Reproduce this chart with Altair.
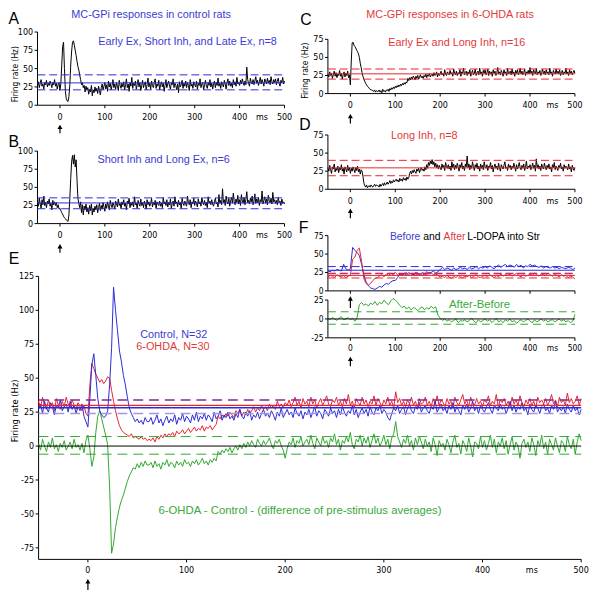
import altair as alt
import pandas as pd

# ---------------- data ----------------
T_FINE = list(range(-50, 501, 2))   # panels A-D and E: 2 ms bins (-50..60 "early", 62..500 "late")
T_F = list(range(-50, 501, 5))      # panel F: 5 ms bins

A_EARLY = [27, 32, 24, 30, 35, 26, 29, 22, 31, 28,
           34, 25, 30, 27, 33, 29, 24, 31, 28, 35,
           26, 30, 22, 28, 31, 20, 30, 55, 80, 86,
           50, 20, 9, 6, 5, 12, 28, 55, 74, 86,
           88, 82, 75, 68, 60, 53, 48, 41, 35, 28,
           31, 24, 27, 18, 26, 21]
A_LATE = [24, 15, 22, 18, 27, 13, 21, 17, 25, 19,
          23, 16, 26, 20, 14, 24, 29, 21, 26, 31,
          22, 28, 19, 33, 25, 30, 21, 27, 35, 24,
          29, 22, 31, 26, 20, 34, 27, 23, 30, 25,
          32, 21, 28, 36, 24, 29, 19, 31, 26, 38,
          23, 30, 27, 33, 22, 28, 35, 25, 31, 20,
          27, 34, 24, 29, 32, 21, 28, 37, 25, 30,
          22, 33, 27, 24, 31, 36, 23, 29, 26, 34,
          21, 28, 32, 25, 30, 19, 27, 35, 24, 29,
          33, 26, 22, 31, 28, 36, 24, 30, 27, 21,
          29, 17, 32, 25, 28, 34, 23, 30, 26, 33,
          24, 31, 27, 20, 35, 26, 29, 23, 32, 28,
          25, 33, 22, 30, 27, 36, 24, 29, 31, 21,
          28, 34, 26, 23, 31, 27, 35, 25, 30, 22,
          29, 33, 24, 31, 27, 37, 26, 30, 23, 32,
          28, 25, 34, 29, 22, 31, 36, 27, 33, 26,
          30, 24, 35, 28, 32, 26, 38, 29, 31, 27,
          34, 29, 36, 31, 27, 33, 28, 52, 35, 30,
          26, 37, 31, 29, 35, 28, 33, 39, 30, 34,
          27, 32, 38, 29, 35, 31, 26, 36, 33, 29,
          37, 30, 34, 28, 39, 32, 29, 35, 31, 36,
          28, 33, 37, 30, 26, 34, 31, 38, 29, 33]
A_LEVELS = [30.5, 41.5, 21]

B_EARLY = [30, 24, 35, 27, 21, 33, 26, 38, 25, 29,
           22, 31, 27, 34, 24, 28, 19, 32, 26, 30,
           25, 29, 22, 26, 20, 21, 18, 15, 13, 10,
           8, 7, 5, 4, 3, 12, 35, 62, 86, 94,
           82, 95, 78, 88, 60, 35, 28, 22, 30, 15,
           26, 12, 24, 19, 27, 16]
B_LATE = [22, 13, 25, 18, 27, 12, 21, 16, 24, 19,
          26, 15, 22, 28, 18, 25, 20, 29, 23, 17,
          27, 21, 30, 24, 19, 32, 26, 22, 29, 25,
          20, 31, 27, 23, 34, 25, 28, 21, 30, 26,
          33, 24, 28, 19, 31, 27, 35, 22, 29, 25,
          30, 23, 37, 26, 28, 21, 32, 27, 24, 34,
          25, 29, 22, 31, 27, 20, 33, 26, 30, 24,
          28, 35, 23, 29, 26, 32, 21, 30, 27, 25,
          31, 24, 28, 22, 36, 27, 30, 25, 33, 23,
          29, 26, 34, 21, 28, 31, 24, 37, 27, 30,
          23, 32, 26, 29, 21, 35, 28, 25, 31, 27,
          24, 38, 29, 26, 33, 22, 30, 27, 35, 25,
          31, 28, 23, 34, 27, 30, 24, 36, 29, 26,
          32, 25, 29, 22, 37, 28, 31, 26, 33, 27,
          24, 30, 35, 27, 29, 23, 40, 28, 32, 26,
          48, 29, 33, 25, 38, 30, 27, 35, 24, 31,
          36, 28, 42, 30, 26, 34, 29, 39, 27, 33,
          25, 40, 31, 28, 36, 26, 33, 44, 29, 32,
          27, 35, 30, 38, 26, 31, 41, 28, 34, 29,
          36, 25, 33, 30, 45, 27, 32, 37, 28, 34,
          26, 39, 31, 29, 35, 27, 43, 30, 33, 28,
          32, 26, 36, 29, 31, 25, 34, 28, 30, 27]
B_LEVELS = [28.5, 35.5, 20.5]

C_EARLY = [27, 23, 30, 25, 28, 21, 26, 31, 24, 29,
           22, 27, 25, 32, 24, 28, 20, 26, 30, 23,
           28, 25, 31, 22, 26, 12, 45, 70, 71, 67,
           65, 63, 60, 58, 55, 50, 42, 36, 29, 24,
           20, 17, 14, 12, 10, 9, 7, 6, 5, 5,
           4, 3, 5, 2, 4, 3]
C_LATE = [3, 5, 2, 4, 1, 6, 3, 4, 2, 5,
          4, 6, 3, 7, 5, 8, 6, 9, 7, 10,
          8, 11, 9, 12, 10, 13, 11, 14, 12, 15,
          13, 16, 15, 21, 18, 22, 19, 23, 20, 24,
          22, 19, 24, 21, 25, 20, 23, 26, 22, 24,
          21, 25, 23, 27, 22, 26, 24, 28, 23, 25,
          27, 24, 29, 25, 26, 30, 23, 28, 25, 27,
          31, 26, 28, 24, 33, 27, 25, 30, 28, 26,
          32, 27, 29, 24, 34, 28, 26, 31, 25, 29,
          27, 33, 24, 30, 28, 35, 26, 29, 31, 25,
          30, 27, 33, 24, 29, 32, 26, 28, 34, 25,
          29, 31, 26, 35, 27, 30, 24, 32, 28, 33,
          26, 29, 34, 25, 31, 27, 30, 24, 33, 28,
          31, 25, 28, 36, 27, 30, 26, 32, 29, 24,
          33, 28, 30, 25, 35, 27, 29, 31, 26, 34,
          27, 30, 24, 32, 28, 33, 26, 29, 35, 27,
          31, 26, 29, 34, 25, 30, 28, 32, 27, 36,
          28, 31, 25, 33, 29, 27, 35, 26, 30, 28,
          32, 25, 29, 34, 27, 31, 26, 33, 28, 30,
          26, 35, 28, 30, 24, 32, 29, 27, 34, 28,
          31, 27, 33, 25, 29, 32, 26, 30, 28, 35,
          27, 30, 25, 33, 28, 31, 26, 29, 32, 28]
C_LEVELS = [27.3, 34, 20]

D_EARLY = [30, 25, 33, 27, 22, 31, 28, 35, 24, 29,
           26, 32, 23, 30, 27, 34, 25, 29, 21, 31,
           28, 24, 33, 26, 30, 22, 29, 25, 31, 27,
           23, 30, 26, 32, 24, 28, 21, 27, 25, 18,
           9, 5, 3, 6, 2, 4, 5, 3, 6, 4,
           3, 5, 7, 4, 6, 5]
D_LATE = [5, 3, 7, 4, 6, 8, 5, 9, 6, 7,
          10, 7, 9, 12, 8, 11, 9, 13, 10, 12,
          14, 11, 13, 10, 15, 12, 14, 11, 16, 13,
          15, 12, 17, 14, 16, 22, 25, 21, 26, 23,
          27, 24, 22, 28, 25, 29, 23, 27, 30, 26,
          28, 25, 31, 27, 34, 29, 37, 33, 39, 35,
          41, 34, 38, 31, 36, 30, 34, 28, 33, 30,
          27, 35, 30, 33, 26, 37, 31, 29, 34, 28,
          32, 26, 38, 30, 35, 27, 33, 29, 36, 31,
          25, 34, 30, 37, 28, 32, 26, 35, 31, 46,
          30, 35, 27, 33, 29, 38, 31, 26, 34, 30,
          36, 28, 32, 25, 35, 29, 33, 27, 38, 31,
          29, 34, 26, 32, 30, 37, 28, 33, 24, 31,
          35, 29, 32, 27, 36, 30, 25, 34, 31, 28,
          33, 38, 29, 31, 26, 35, 30, 33, 27, 32,
          29, 36, 31, 25, 34, 28, 32, 37, 30, 27,
          33, 29, 35, 26, 31, 39, 28, 32, 30, 34,
          27, 31, 36, 29, 33, 25, 42, 30, 34, 28,
          32, 26, 35, 30, 28, 36, 31, 27, 33, 29,
          35, 28, 31, 24, 34, 30, 37, 27, 32, 29,
          26, 33, 30, 36, 28, 31, 25, 34, 29, 32,
          30, 27, 35, 28, 31, 24, 33, 29, 26, 30]
D_LEVELS = [29.6, 40, 18.7]

F_BEFORE = [27, 26, 28, 27, 29, 28, 27, 36, 30, 28,
            30, 59, 55, 52, 48, 36, 22, 12, 7, 4,
            3, 2, 4, 6, 5, 8, 10, 9, 12, 14,
            14, 18, 23, 22, 24, 21, 25, 23, 22, 25,
            24, 22, 25, 23, 26, 24, 25, 27, 24, 26,
            29, 32, 29, 31, 30, 28, 31, 29, 30, 32,
            30, 31, 29, 32, 30, 31, 33, 30, 32, 31,
            33, 31, 34, 32, 30, 33, 35, 32, 34, 36,
            33, 35, 34, 32, 36, 33, 35, 31, 34, 33,
            36, 34, 35, 33, 32, 34, 31, 33, 32, 31,
            33, 31, 32, 30, 32, 31, 30, 32, 31, 29,
            31]
F_AFTER = [19, 21, 20, 18, 22, 20, 19, 21, 18, 20,
           21, 43, 46, 55, 58, 40, 17, 10, 8, 10,
           14, 17, 18, 20, 22, 19, 23, 21, 24, 22,
           25, 22, 24, 21, 23, 25, 22, 24, 21, 23,
           22, 24, 21, 23, 22, 25, 24, 22, 23, 21,
           19, 20, 18, 21, 19, 17, 20, 18, 21, 19,
           18, 20, 19, 21, 18, 20, 22, 19, 18, 20,
           21, 19, 22, 20, 18, 21, 19, 23, 20, 22,
           21, 23, 20, 22, 24, 21, 19, 22, 20, 21,
           23, 21, 24, 22, 20, 23, 22, 21, 24, 22,
           20, 22, 21, 19, 22, 20, 21, 18, 20, 19,
           16]
F_DIFF = [1, -1, 2, 0, -2, 1, 3, -1, 0, 2,
          -1, 1, -3, 2, 19, 22, 18, 20, 17, 21,
          19, 23, 18, 22, 20, 25, 21, 19, 24, 27,
          25, 22, 18, 15, 17, 13, 16, 12, 15, 14,
          11, 14, 16, 12, 15, 13, 17, 14, 16, 5,
          1, -2, 0, -3, -1, -4, -2, 0, -5, -2,
          -3, -1, -4, -2, 1, -3, -5, -1, -4, -2,
          0, -3, -1, -5, -2, 1, -4, -2, -5, -1,
          -3, 0, -4, -2, -6, -3, -1, -4, -2, 0,
          -3, -5, -1, -4, -2, 0, -3, -1, -4, -2,
          -1, -4, -2, 0, -3, -1, -4, -2, -5, -3,
          6]
F_BEFORE_LEVELS = [28, 33, 23.3]
F_AFTER_LEVELS = [21, 24, 17.5]
F_DIFF_LEVELS = [9.5, -7]

E_CTRL_EARLY = [27, 31, 24, 33, 28, 25, 32, 29, 23, 30,
                28, 34, 26, 29, 31, 25, 33, 27, 30, 24,
                29, 26, 31, 22, 18, 14, 35, 60, 68, 52,
                35, 26, 23, 21, 22, 26, 45, 72, 117, 100,
                85, 70, 62, 52, 45, 36, 28, 24, 21, 18,
                20, 17, 19, 16, 21, 18]
E_CTRL_LATE = [18, 21, 16, 19, 23, 17, 20, 15, 19, 22,
               17, 20, 18, 23, 16, 21, 19, 24, 18, 22,
               20, 17, 23, 19, 25, 18, 22, 20, 24, 19,
               23, 21, 18, 25, 20, 22, 26, 19, 23, 21,
               25, 20, 22, 19, 24, 21, 27, 22, 20, 25,
               22, 26, 19, 23, 21, 25, 20, 24, 27, 22,
               24, 21, 26, 23, 19, 25, 22, 28, 21, 24,
               27, 23, 25, 21, 28, 24, 22, 26, 20, 25,
               23, 27, 21, 25, 29, 22, 26, 24, 20, 27,
               25, 22, 28, 24, 26, 21, 27, 23, 29, 25,
               22, 26, 24, 30, 23, 27, 21, 25, 28, 24,
               27, 22, 29, 25, 23, 28, 26, 30, 24, 27,
               25, 21, 19, 24, 28, 26, 30, 24, 27, 29,
               23, 28, 31, 26, 24, 29, 27, 32, 25, 28,
               30, 26, 24, 29, 27, 33, 25, 28, 31, 26,
               28, 24, 30, 27, 32, 25, 29, 26, 23, 30,
               27, 31, 25, 28, 33, 26, 29, 24, 30, 27,
               25, 29, 32, 27, 24, 30, 28, 26, 31, 27,
               29, 24, 28, 33, 26, 30, 25, 29, 27, 32,
               26, 28, 23, 31, 27, 25, 30, 28, 24, 29,
               31, 26, 28, 24, 30, 27, 33, 25, 28, 26,
               29, 24, 31, 27, 25, 30, 26, 28, 23, 27]
E_OHDA_EARLY = [33, 28, 36, 30, 27, 34, 29, 32, 26, 35,
                30, 27, 33, 29, 36, 31, 28, 34, 30, 27,
                32, 29, 26, 30, 24, 22, 45, 61, 57, 53,
                50, 47, 49, 46, 48, 51, 50, 41, 33, 26,
                20, 15, 12, 10, 9, 8, 7, 9, 6, 7,
                6, 5, 7, 5, 6, 4]
E_OHDA_LATE = [5, 4, 6, 3, 7, 5, 8, 6, 9, 7,
               9, 8, 10, 7, 11, 9, 10, 12, 9, 11,
               13, 10, 12, 14, 11, 13, 12, 15, 11, 14,
               13, 15, 12, 14, 16, 22, 20, 23, 21, 24,
               22, 25, 23, 21, 26, 24, 27, 22, 25, 23,
               27, 24, 26, 29, 25, 28, 26, 30, 27, 29,
               26, 31, 28, 30, 27, 33, 29, 31, 28, 32,
               30, 34, 29, 32, 36, 30, 33, 28, 35, 31,
               33, 29, 36, 31, 34, 28, 32, 35, 30, 33,
               37, 31, 29, 34, 32, 36, 30, 33, 29, 35,
               31, 38, 30, 33, 28, 35, 32, 30, 36, 31,
               34, 29, 33, 31, 37, 30, 35, 32, 29, 34,
               31, 36, 30, 33, 28, 40, 32, 35, 30, 33,
               29, 34, 31, 36, 30, 33, 28, 35, 31, 32,
               36, 30, 33, 29, 35, 31, 37, 30, 34, 32,
               29, 35, 31, 33, 28, 36, 32, 30, 34, 38,
               31, 34, 29, 36, 32, 30, 35, 31, 33, 29,
               34, 32, 37, 30, 33, 31, 38, 29, 34, 32,
               35, 30, 33, 29, 36, 31, 34, 30, 37, 32,
               29, 34, 31, 35, 30, 33, 28, 36, 32, 34,
               31, 35, 30, 33, 38, 31, 34, 29, 36, 32,
               34, 30, 39, 32, 35, 31, 33, 37, 30, 35]
E_DIFF_EARLY = [2, -3, 5, 0, -4, 3, -1, 6, -2, 1,
                -4, 2, -1, 4, -3, 0, 3, -2, 5, -1,
                1, -3, 2, -5, 4, 8, -2, -15, -8, 10,
                22, 26, 20, 14, 8, 1, -30, -79, -72, -60,
                -52, -45, -40, -36, -31, -26, -22, -19, -16, -17,
                -13, -16, -12, -15, -11, -14]
E_DIFF_LATE = [-14, -12, -16, -11, -15, -13, -17, -12, -14, -10,
               -15, -12, -13, -16, -11, -14, -12, -15, -10, -13,
               -12, -15, -11, -13, -10, -14, -12, -9, -13, -11,
               -14, -10, -12, -9, -11, -4, -6, -3, -5, -2,
               -4, -1, -5, -2, 0, -3, 1, -2, 2, -1,
               3, 0, 4, 1, -1, 5, 2, 0, 4, 1,
               3, 6, 1, -2, 4, 2, 5, 0, -3, -9,
               -2, 3, 1, 6, -1, 4, 2, 7, 0, 3,
               5, 1, 8, 2, -2, 6, 3, 0, 7, 2,
               4, -1, 6, 3, 9, 1, 5, -3, 4, 2,
               7, 3, 10, 1, -2, 5, 3, 8, 0, 6,
               2, 7, -1, 4, 9, 2, 6, 0, 3, 8,
               1, 5, -2, 6, 9, 18, 7, 3, -1, 5,
               2, 8, 0, 4, -3, 6, 1, 7, 3, -2,
               5, 0, 3, -4, 6, 1, -7, 4, 0, 2,
               -3, 5, 1, -5, 3, 8, -1, 2, -6, 4,
               1, -4, 6, 0, -8, 3, 2, -2, 7, -1,
               4, -3, 2, 8, -1, 5, -5, 3, 0, 6,
               -2, 4, -6, 1, 7, -3, 3, 0, -9, 2,
               5, -1, 3, -4, 6, 1, -7, 4, 0, 8,
               -2, 3, -6, 5, 1, -3, 6, 0, -5, 4,
               2, -4, 7, 1, -2, 5, -6, 3, 9, 4]
E_CTRL_MEAN = 28.3
E_OHDA_MEAN = 30
E_UPPER = 34
E_LOWER = 24
E_DIFF_LEVELS = [7, -6]

X_TICKS = [0, 100, 200, 300, 400, 500]
X_UNIT = "ms"
Y_TICKS_100 = [0, 25, 50, 75, 100]
Y_TICKS_75 = [0, 25, 50, 75]
Y_TICKS_F2 = [-25, 0, 25]
Y_TICKS_E = [-75, -50, -25, 0, 25, 50, 75, 100, 125]

TITLE_CTRL = "MC-GPi responses in control rats"
TITLE_OHDA = "MC-GPi responses in 6-OHDA rats"
SUB_A = "Early Ex, Short Inh, and Late Ex, n=8"
SUB_B = "Short Inh and Long Ex, n=6"
SUB_C = "Early Ex and Long Inh, n=16"
SUB_D = "Long Inh, n=8"
SUB_F = ["Before", "and", "After", "L-DOPA into Str"]
SUB_F2 = "After-Before"
LEG_E = ["Control, N=32", "6-OHDA, N=30"]
SUB_E = "6-OHDA - Control - (difference of pre-stimulus averages)"
YTITLE = "Firing rate (Hz)"

# ---------------- style / layout ----------------
M = 8
W = H = 592
SANS = "Liberation Sans, Arial, Helvetica, sans-serif"
NARROW = "Liberation Sans Narrow, Arial Narrow, DejaVu Sans Condensed, sans-serif"
BLUE = "#2a2ad8"
RED = "#e8232b"
GREEN = "#2fa82f"
TBLUE = "#3b3bd2"
TRED = "#e23a3a"
TGREEN = "#3aa83a"

# panel geometry in page pixels: (x of -50 ms, x of 500 ms, y of ymin, y of ymax, [ymin, ymax])
G_A = (37.9, 288.3, 102.5, 28.3, [0, 100])
G_B = (37.9, 288.3, 222.5, 149.0, [0, 100])
G_C = (332.3, 582.7, 90.7, 35.7, [0, 75])
G_D = (332.3, 582.7, 187.7, 132.7, [0, 75])
G_FU = (332.3, 582.7, 290.7, 234.7, [0, 75])
G_FL = (332.3, 582.7, 338.3, 300.0, [-25, 25])
G_E = (39.0, 589.0, 562.9, 276.0, [-83.5, 125])


def scales(g):
    x0, x1, y0, y1, ydom = g
    xs = alt.Scale(domain=[-50, 500], range=[x0 - M, x1 - M], nice=False, zero=False)
    ys = alt.Scale(domain=ydom, range=[y0 - M, y1 - M], nice=False, zero=False)
    return xs, ys


def enc_xy(xs, ys, xf="t", yf="v"):
    return dict(x=alt.X(xf + ":Q", scale=xs, axis=None), y=alt.Y(yf + ":Q", scale=ys, axis=None))


def line_layer(times, values, color, xs, ys, width=1.0):
    assert len(times) == len(values), (len(times), len(values))
    df = pd.DataFrame({"t": times, "v": values})
    return alt.Chart(df).mark_line(color=color, strokeWidth=width).encode(**enc_xy(xs, ys))


def level_layer(vals, color, xs, ys, dash=None, width=1.0):
    df = pd.DataFrame({"t0": [-50] * len(vals), "t1": [500] * len(vals), "v": vals})
    kw = {"color": color, "strokeWidth": width}
    if dash:
        kw["strokeDash"] = dash
    return alt.Chart(df).mark_rule(**kw).encode(x2="t1:Q", **enc_xy(xs, ys, xf="t0"))


def text_layer(rows, xs, ys, size=11, font=SANS, align="center", angle=0):
    df = pd.DataFrame(rows, columns=["t", "v", "label", "color"])
    kw = dict(font=font, fontSize=size, align=align, baseline="middle")
    if angle:
        kw["angle"] = angle
    return alt.Chart(df).mark_text(**kw).encode(
        text="label:N", color=alt.Color("color:N", scale=None), **enc_xy(xs, ys))


def arrow_layers(xs, ys, tail, head):
    df = pd.DataFrame({"t": [0], "v0": [tail], "v1": [head]})
    base = alt.Chart(df)
    stem = base.mark_rule(color="black", strokeWidth=1.2).encode(y2="v1:Q", **enc_xy(xs, ys, yf="v0"))
    tip = base.mark_point(shape="triangle-up", filled=True, size=26, color="black",
                          opacity=1).encode(**enc_xy(xs, ys, yf="v1"))
    return [stem, tip]


def axis_layers(g, xs, ys, yticks, x_at=None, xlabels=True, xgap=11.5, ygap=4.5,
                tick=3.0, lsize=9.0):
    """Axis lines, ticks and labels drawn through the panel's own scales."""
    x0, x1, y0, y1, ydom = g
    kx = (x1 - x0) / 550.0
    ky = (y0 - y1) / float(ydom[1] - ydom[0])
    if x_at is None:
        x_at = ydom[0]
    segs = [(-50, 500, x_at, x_at), (-50, -50, ydom[0], ydom[1])]
    segs += [(t, t, x_at, x_at - tick / ky) for t in X_TICKS]
    segs += [(-50, -50 - tick / kx, v, v) for v in yticks]
    seg_df = pd.DataFrame(segs, columns=["t0", "t1", "v0", "v1"])
    out = [alt.Chart(seg_df).mark_rule(color="black", strokeWidth=1).encode(
        x2="t1:Q", y2="v1:Q", **enc_xy(xs, ys, xf="t0", yf="v0"))]
    if xlabels:
        xl = [(t, x_at - xgap / ky, str(t), "black") for t in X_TICKS]
        xl.append((450, x_at - xgap / ky, X_UNIT, "black"))
        out.append(text_layer(xl, xs, ys, size=lsize, font=NARROW))
    yl = [(-50 - ygap / kx, v, str(v), "black") for v in yticks]
    out.append(text_layer(yl, xs, ys, size=lsize, font=NARROW, align="right"))
    return out


# Panel A
xs, ys = scales(G_A)
pA = alt.layer(
    *axis_layers(G_A, xs, ys, Y_TICKS_100),
    line_layer(T_FINE, A_EARLY + A_LATE, "black", xs, ys),
    level_layer(A_LEVELS[:1], BLUE, xs, ys),
    level_layer(A_LEVELS[1:], BLUE, xs, ys, dash=[8, 4]),
    text_layer([[-102.6, 117.5, "A", "black"]], xs, ys, size=16),
    text_layer([[203, 123.7, TITLE_CTRL, TBLUE], [284, 86.5, SUB_A, TBLUE]], xs, ys),
    text_layer([[-100, 42.5, YTITLE, "black"]], xs, ys, size=8.5, font=NARROW, angle=270),
    *arrow_layers(xs, ys, -38.4, -29.6),
)

# Panel B
xs, ys = scales(G_B)
pB = alt.layer(
    *axis_layers(G_B, xs, ys, Y_TICKS_100),
    line_layer(T_FINE, B_EARLY + B_LATE, "black", xs, ys),
    level_layer(B_LEVELS[:1], BLUE, xs, ys),
    level_layer(B_LEVELS[1:], BLUE, xs, ys, dash=[8, 4]),
    text_layer([[-102.6, 112, "B", "black"]], xs, ys, size=16),
    text_layer([[231, 87.3, SUB_B, TBLUE]], xs, ys),
    *arrow_layers(xs, ys, -40.1, -31.3),
)

# Panel C
xs, ys = scales(G_C)
pC = alt.layer(
    *axis_layers(G_C, xs, ys, Y_TICKS_75),
    line_layer(T_FINE, C_EARLY + C_LATE, "black", xs, ys),
    level_layer(C_LEVELS[:1], RED, xs, ys),
    level_layer(C_LEVELS[1:], RED, xs, ys, dash=[8, 4]),
    text_layer([[-99, 101, "C", "black"]], xs, ys, size=16),
    text_layer([[222, 109, TITLE_OHDA, TRED], [237, 70, SUB_C, TRED]], xs, ys),
    text_layer([[-100.6, 31.6, YTITLE, "black"]], xs, ys, size=8.5, font=NARROW, angle=270),
    *arrow_layers(xs, ys, -41.3, -31.1),
)

# Panel D
xs, ys = scales(G_D)
pD = alt.layer(
    *axis_layers(G_D, xs, ys, Y_TICKS_75),
    line_layer(T_FINE, D_EARLY + D_LATE, "black", xs, ys),
    level_layer(D_LEVELS[:1], RED, xs, ys),
    level_layer(D_LEVELS[1:], RED, xs, ys, dash=[8, 4]),
    text_layer([[-101, 89.2, "D", "black"]], xs, ys, size=16),
    text_layer([[164.5, 74, SUB_D, TRED]], xs, ys),
    *arrow_layers(xs, ys, -40, -29.7),
)

# Panel F upper
xs, ys = scales(G_FU)
pFu = alt.layer(
    *axis_layers(G_FU, xs, ys, Y_TICKS_75, xlabels=False, lsize=8.5),
    line_layer(T_F, F_BEFORE, BLUE, xs, ys),
    line_layer(T_F, F_AFTER, RED, xs, ys),
    level_layer(F_BEFORE_LEVELS[:1], BLUE, xs, ys),
    level_layer(F_BEFORE_LEVELS[1:], BLUE, xs, ys, dash=[8, 4]),
    level_layer(F_AFTER_LEVELS[:1], RED, xs, ys),
    level_layer(F_AFTER_LEVELS[1:], RED, xs, ys, dash=[8, 4]),
    text_layer([[-104, 85.3, "F", "black"]], xs, ys, size=16),
    text_layer([[88, 73.2, SUB_F[0], TBLUE], [162, 73.2, SUB_F[1], "black"],
                [207.5, 73.2, SUB_F[2], TRED], [260, 73.2, SUB_F[3], "black"]],
               xs, ys, size=10.5, align="left"),
    *arrow_layers(xs, ys, -23.2, -10.4),
)

# Panel F lower
xs, ys = scales(G_FL)
pFl = alt.layer(
    *axis_layers(G_FL, xs, ys, Y_TICKS_F2, xgap=10.5, lsize=8.5),
    line_layer(T_F, F_DIFF, GREEN, xs, ys),
    level_layer([0], "black", xs, ys),
    level_layer(F_DIFF_LEVELS, GREEN, xs, ys, dash=[8, 5]),
    text_layer([[287.5, 18.3, SUB_F2, TGREEN]], xs, ys, size=11.5),
    *arrow_layers(xs, ys, -62.7, -52.9),
)

# Panel E
xs, ys = scales(G_E)
pE = alt.layer(
    *axis_layers(G_E, xs, ys, Y_TICKS_E, xgap=10.5),
    line_layer(T_FINE, E_DIFF_EARLY + E_DIFF_LATE, GREEN, xs, ys),
    line_layer(T_FINE, E_OHDA_EARLY + E_OHDA_LATE, RED, xs, ys),
    line_layer(T_FINE, E_CTRL_EARLY + E_CTRL_LATE, BLUE, xs, ys),
    level_layer([0], "black", xs, ys),
    level_layer(E_DIFF_LEVELS, GREEN, xs, ys, dash=[10, 6]),
    level_layer([E_UPPER], "#83279c", xs, ys, dash=[10, 6], width=1.5),
    level_layer([E_LOWER], "#a797d9", xs, ys, dash=[10, 6], width=1.5),
    level_layer([E_OHDA_MEAN], RED, xs, ys, width=1.2),
    level_layer([E_CTRL_MEAN], BLUE, xs, ys, width=1.5),
    text_layer([[-75, 138, "E", "black"]], xs, ys, size=16),
    text_layer([[53, 82, LEG_E[0], TBLUE], [49, 73, LEG_E[1], TRED]], xs, ys, align="left"),
    text_layer([[215, -48, SUB_E, TGREEN]], xs, ys, size=11.5),
    text_layer([[-74, 26, YTITLE, "black"]], xs, ys, size=9.5, font=NARROW, angle=270),
    *arrow_layers(xs, ys, -106, -99.6),
)

chart = alt.layer(pA, pB, pC, pD, pFu, pFl, pE).resolve_scale(
    x="independent", y="independent"
).properties(
    width=W, height=H, padding=0, autosize=alt.AutoSizeParams(type="none")
).configure_view(stroke=None)

chart.save("out.html", embed_options={"renderer": "svg", "actions": False})
